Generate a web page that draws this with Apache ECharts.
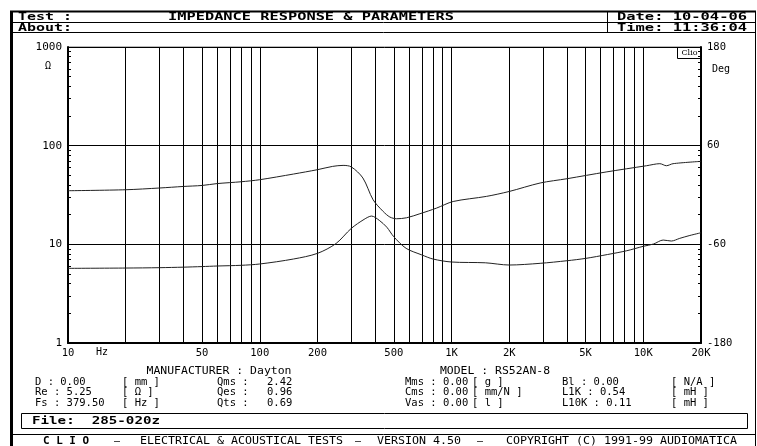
<!DOCTYPE html>
<html><head><meta charset="utf-8">
<script src="https://cdn.jsdelivr.net/npm/echarts@6/dist/echarts.min.js"></script>
<style>html,body{margin:0;padding:0;background:#fff}#c{width:757px;height:446px}</style>
</head><body><div id="c"></div>
<script>
// ---- data ----
const zFreq  = [10,20,30,40,50,60,80,100,150,200,250,300,350,383,420,460,500,580,700,800,1000,1500,2000,2900,4000,5000,6500,8200,10000,11300,12700,14000,15500,17500,20000];
const zOhm   = [5.71,5.75,5.8,5.87,5.95,6.03,6.13,6.32,7.1,8.1,10.2,14.5,17.9,19.35,17.5,14.9,11.94,9.1,7.81,7.1,6.62,6.5,6.17,6.42,6.82,7.2,7.88,8.61,9.55,10.07,11.05,10.8,11.5,12.3,13.1];
const phFreq = [10,20,30,40,50,60,80,100,150,200,240,272,300,345,390,440,477,517,583,684,836,1020,1520,2000,2900,4000,6400,10400,12200,13200,14300,20000];
const phDeg  = [5.2,6.4,8.5,10.4,11.6,13.9,16.1,18.6,25.5,30.8,34.8,36.0,34.2,20.7,-5.8,-20,-26.8,-28.9,-27.7,-22.8,-15.9,-7.9,-1.7,4.3,14.6,19.8,28.0,35.6,38.1,35.6,38.1,40.9];
const freqGrid = [10,20,30,40,50,60,70,80,90,100,200,300,400,500,600,700,800,900,1000,2000,3000,4000,5000,6000,7000,8000,9000,10000,20000];
const freqLabels = [10,50,100,200,500,1000,2000,5000,10000,20000];
const ohmMinor = [2,3,4,5,6,7,8,9,20,30,40,50,60,70,80,90,200,300,400,500,600,700,800,900];
const paramCol1 = ['D : 0.00','Re : 5.25','Fs : 379.50'];
const paramUnit1 = ['[ mm ]','[ \u03a9 ]','[ Hz ]'];
const paramCol2 = ['Qms :','Qes :','Qts :'];
const paramVal2 = ['2.42','0.96','0.69'];
const paramCol3 = ['Mms : 0.00','Cms : 0.00','Vas : 0.00'];
const paramUnit3 = ['[ g ]','[ mm/N ]','[ l ]'];
const paramCol4 = ['Bl : 0.00','L1K : 0.54','L10K : 0.11'];
const paramUnit4 = ['[ N/A ]','[ mH ]','[ mH ]'];

const MONO = '"DejaVu Sans Mono", "Liberation Mono", monospace';
const chart = echarts.init(document.getElementById('c'), null, {renderer:'canvas'});

function fmtHz(v){ return v >= 1000 ? (v/1000) + 'K' : String(v); }
function txt(x,y,s,opt){
  opt=opt||{}; const size=opt.size||10;
  const el = {type:'text', x:x, y:y, silent:true, style:{text:s, fill:'#000', font:(opt.bold?'bold ':'')+size+'px '+(opt.family||MONO), textAlign:opt.align||'left', textVerticalAlign:'middle'}};
  if (opt.w) el.scaleX = opt.w / (s.length * 0.602 * size);
  if (opt.sx) el.scaleX = opt.sx;
  return el;
}
function ln(x1,y1,x2,y2,w){ return {type:'line', silent:true, shape:{x1:x1,y1:y1,x2:x2,y2:y2}, style:{stroke:'#000', lineWidth:w||1}}; }

const g = [];
// frame
g.push(ln(11.5,11,11.5,446,3));
g.push(ln(10,11.5,756,11.5,2));
g.push(ln(755.5,11,755.5,446,1));
g.push(ln(11,22.5,756,22.5,1));
g.push(ln(11,32.5,756,32.5,1));
g.push(ln(607.5,11,607.5,32,1));
g.push({type:'rect', silent:true, shape:{x:21.5,y:413.5,width:726,height:15}, style:{fill:null, stroke:'#000', lineWidth:1}});
g.push(ln(11,434.5,756,434.5,1));
// header
g.push(txt(18,17,'Test :',{bold:true,size:10,w:54}));
g.push(txt(18,28,'About:',{bold:true,size:10,w:54}));
g.push(txt(168,17,'IMPEDANCE RESPONSE & PARAMETERS',{bold:true,size:10,w:286}));
g.push(txt(617,17,'Date: 10-04-06',{bold:true,size:10,w:130}));
g.push(txt(617,28,'Time: 11:36:04',{bold:true,size:10,w:130}));
// axis units
g.push(txt(48,66,'\u03a9',{size:10,align:'center'}));
g.push(txt(712,69,'Deg',{size:10}));
g.push(txt(96,352,'Hz',{size:10}));
// Clio box
g.push({type:'rect', silent:true, shape:{x:677.5,y:47.5,width:24,height:11}, style:{fill:'#fff', stroke:'#000', lineWidth:1}});
g.push(txt(689.5,53,'Clio',{size:8,align:'center',family:'"DejaVu Serif", serif'}));
// params
const PS = 1.05;
g.push(txt(219,371,'MANUFACTURER : Dayton',{align:'center',w:145}));
g.push(txt(495,371,'MODEL : RS52AN-8',{align:'center',w:110}));
const rowY = [382,392.5,403];
for (let i=0;i<3;i++){
  g.push(txt(35,rowY[i],paramCol1[i],{sx:PS}));
  g.push(txt(122,rowY[i],paramUnit1[i],{sx:PS}));
  g.push(txt(217,rowY[i],paramCol2[i],{sx:PS}));
  g.push(txt(267,rowY[i],paramVal2[i],{sx:PS}));
  g.push(txt(405,rowY[i],paramCol3[i],{sx:PS}));
  g.push(txt(472,rowY[i],paramUnit3[i],{sx:PS}));
  g.push(txt(562,rowY[i],paramCol4[i],{sx:PS}));
  g.push(txt(671,rowY[i],paramUnit4[i],{sx:PS}));
}
g.push(txt(32,421,'File:  285-020z',{bold:true,size:10,w:128}));
// footer
const FS = 7.0/6.02;
g.push(txt(43,441,'C L I O',{bold:true,size:10,w:46}));
g.push(txt(117,441,'\u2013',{size:10,align:'center'}));
g.push(txt(140,441,'ELECTRICAL & ACOUSTICAL TESTS',{size:10,sx:FS}));
g.push(txt(358,441,'\u2013',{size:10,align:'center'}));
g.push(txt(377,441,'VERSION 4.50',{size:10,sx:FS}));
g.push(txt(480,441,'\u2013',{size:10,align:'center'}));
g.push(txt(506,441,'COPYRIGHT (C) 1991-99 AUDIOMATICA',{size:10,sx:FS}));

const option = {
  animation:false,
  backgroundColor:'#fff',
  grid:{left:68, right:56, top:47, bottom:103, show:true, borderColor:'#777', borderWidth:1, outerBoundsMode:'none', containLabel:false},
  xAxis:{type:'log', logBase:10, min:10, max:20000,
    axisLine:{show:true, onZero:false, lineStyle:{color:'#000', width:2}},
    axisTick:{show:false, customValues:freqGrid},
    splitLine:{show:true, lineStyle:{color:'#000', width:1}},
    axisLabel:{customValues:freqLabels, formatter:fmtHz, color:'#000', fontFamily:MONO, fontSize:10.5, margin:5, hideOverlap:false}
  },
  yAxis:[
    {type:'log', logBase:10, min:1, max:1000, position:'left',
      axisLine:{show:true, lineStyle:{color:'#000', width:2}},
      axisTick:{show:false},
      splitLine:{show:true, lineStyle:{color:'#000', width:1}},
      axisLabel:{color:'#000', fontFamily:MONO, fontSize:11, margin:6, formatter:function(v){return String(Math.round(v));}}},
    {type:'value', min:-180, max:180, interval:120, position:'right',
      axisLine:{show:true, onZero:false, lineStyle:{color:'#000', width:2}},
      axisTick:{show:false}, splitLine:{show:false},
      axisLabel:{color:'#000', fontFamily:MONO, fontSize:10.5, margin:6}},
    {type:'log', logBase:10, min:1, max:1000, position:'left',
      axisLine:{show:false}, axisLabel:{show:false}, splitLine:{show:false},
      axisTick:{show:true, inside:true, length:3, customValues:ohmMinor, lineStyle:{color:'#000'}}},
    {type:'log', logBase:10, min:1, max:1000, position:'right',
      axisLine:{show:false}, axisLabel:{show:false}, splitLine:{show:false},
      axisTick:{show:true, inside:true, length:3, customValues:ohmMinor, lineStyle:{color:'#000'}}}
  ],
  series:[
    {type:'line', name:'Impedance', yAxisIndex:0, data:zFreq.map((f,i)=>[f,zOhm[i]]), showSymbol:false, smooth:0.3, lineStyle:{color:'#222', width:1}, silent:true},
    {type:'line', name:'Phase', yAxisIndex:1, data:phFreq.map((f,i)=>[f,phDeg[i]]), showSymbol:false, smooth:0.3, lineStyle:{color:'#222', width:1}, silent:true}
  ],
  graphic:g
};
chart.setOption(option);
</script></body></html>
